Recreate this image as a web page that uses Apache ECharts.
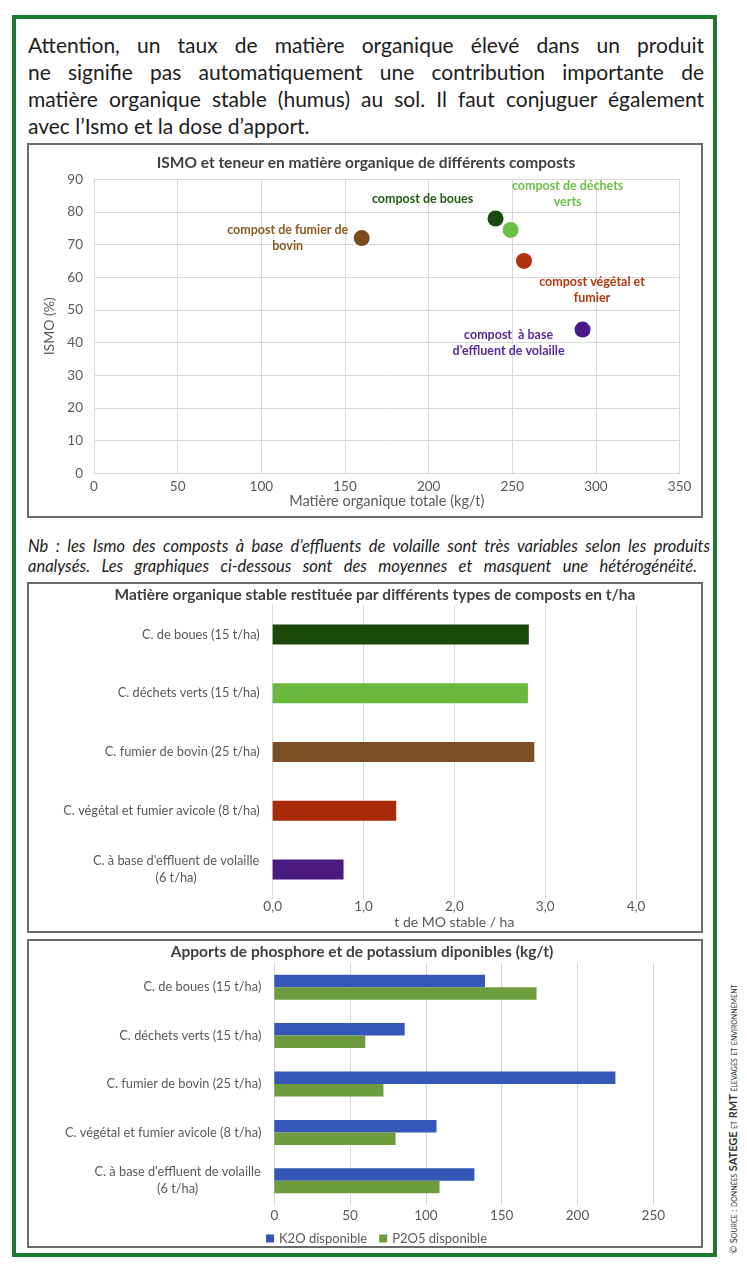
<!DOCTYPE html>
<html><head><meta charset="utf-8">
<script src="https://cdn.jsdelivr.net/npm/echarts@6/dist/echarts.min.js"></script>
<style>
body{margin:0;background:#fff;}
#page{position:relative;width:747px;height:1271px;overflow:hidden;background:#fff;}
.frame{position:absolute;left:12px;top:15px;width:697px;height:1234px;border:4px solid #1e7b34;}
.box{position:absolute;border:2px solid #6a6a6a;box-sizing:border-box;}
#chart{position:absolute;left:0;top:0;width:747px;height:1271px;}
.para{position:absolute;left:28px;width:676px;top:31px;font-family:Lato,"Open Sans",sans-serif;font-size:21px;line-height:27px;color:#1c1c1c;}
.para div{white-space:nowrap;text-align:justify;text-align-last:justify;}
.para div.last{text-align:left;text-align-last:left;}
.nb{position:absolute;left:28px;width:682px;top:536px;font-family:Lato,"Open Sans",sans-serif;font-style:italic;font-size:16.5px;line-height:20px;color:#1c1c1c;}
.nb div{white-space:nowrap;text-align:justify;text-align-last:justify;}
.nb div.l2{width:669px;}
.src{position:absolute;left:598px;top:1113px;width:270px;height:12px;line-height:12px;transform:rotate(-90deg);transform-origin:50% 50%;font-family:Lato,"Open Sans",sans-serif;font-size:9.5px;font-variant:small-caps;color:#333;white-space:nowrap;text-align:center;}
.src b{font-weight:bold;font-size:11px;}
</style>
</head><body>
<div id="page">
  <div class="frame"></div>
  <div class="box" style="left:27px;top:143px;width:676px;height:375px;"></div>
  <div class="box" style="left:27px;top:582px;width:676px;height:351px;"></div>
  <div class="box" style="left:27px;top:939px;width:676px;height:309px;"></div>
  <div class="para">
    <div>Attention, un taux de matière organique élevé dans un produit</div>
    <div>ne signifie pas automatiquement une contribution importante de</div>
    <div>matière organique stable (humus) au sol. Il faut conjuguer également</div>
    <div class="last">avec l’Ismo et la dose d’apport.</div>
  </div>
  <div class="nb">
    <div>Nb : les Ismo des composts à base d’effluents de volaille sont très variables selon les produits</div>
    <div class="l2">analysés. Les graphiques ci-dessous sont des moyennes et masquent une hétérogénéité.</div>
  </div>
  <div class="src">© Source : données <b>SATEGE</b> et <b>RMT</b> élevages et environnement</div>
  <div id="chart"></div>
</div>
<script>
// ---- Data ----
const scatterLabels = ['compost de fumier de\nbovin', 'compost de boues', 'compost de déchets\nverts', 'compost végétal et\nfumier', "compost  à base\nd'effluent de volaille"];
const scatterMO = [160, 240, 249, 257, 292];
const scatterISMO = [72, 78, 74.5, 65, 44];

const categories = ['C. de boues (15 t/ha)', 'C. déchets verts (15 t/ha)', 'C. fumier de bovin (25 t/ha)', 'C. végétal et fumier avicole (8 t/ha)', "C. à base d'effluent de volaille\n(6 t/ha)"];
const moStable = [2.82, 2.81, 2.88, 1.36, 0.78];
const k2o = [139, 86, 225, 107, 132];
const p2o5 = [173, 60, 72, 80, 109];
const seriesNames = ['K2O disponible', 'P2O5 disponible'];

const titles = ['ISMO et teneur en matière organique de différents composts',
  'Matière organique stable restituée par différents types de composts en t/ha',
  'Apports de phosphore et de potassium diponibles (kg/t)'];

// ---- Styles ----
const pointColors = ['#7a4a1c', '#174a0e', '#6abf45', '#b0300c', '#4a1a8a'];
const labelColors = ['#8a5a26', '#215c16', '#6cc04a', '#b5380f', '#5a2a9a'];
const labelOffsets = [[-74, 0], [-73, -20], [57, -36], [68, 29], [-74, 13]];
const barColors = ['#1a4a0a', '#6ab93f', '#7b4f22', '#a82a08', '#4a1a80'];
const FONT = 'Lato, "Open Sans", sans-serif';
const GRAY = '#595959';
const GRID = '#d9d9d9';
const CAT_SIZE = 12.8;

const chart = echarts.init(document.getElementById('chart'), null, {renderer: 'canvas'});

// width of the widest line of a multi-line category label (for centring the second line under it)
const mctx = document.createElement('canvas').getContext('2d');
mctx.font = CAT_SIZE + 'px ' + FONT;
function catLabel(v) {
  const parts = v.split('\n');
  if (parts.length > 1) {
    return parts.map(p => '{c|' + p + '}').join('\n');
  }
  return '{n|' + v + '}';
}
const multi = categories.find(c => c.indexOf('\n') >= 0) || '';
const multiW = Math.max.apply(null, multi.split('\n').map(p => mctx.measureText(p).width)) + 1;
const catRich = {
  n: {fontSize: CAT_SIZE, color: GRAY, fontFamily: FONT, lineHeight: 17},
  c: {fontSize: CAT_SIZE, color: GRAY, fontFamily: FONT, lineHeight: 17, width: multiW, align: 'center'}
};

const titleFont = 'bold 15.5px ' + FONT;
const option = {
  animation: false,
  backgroundColor: 'transparent',
  textStyle: {fontFamily: FONT},
  graphic: [
    {type: 'text', x: 366, y: 163, style: {text: titles[0], textAlign: 'center', textVerticalAlign: 'middle', font: titleFont, fill: '#404040'}},
    {type: 'text', x: 375, y: 595, style: {text: titles[1], textAlign: 'center', textVerticalAlign: 'middle', font: titleFont, fill: '#404040'}},
    {type: 'text', x: 362, y: 952, style: {text: titles[2], textAlign: 'center', textVerticalAlign: 'middle', font: titleFont, fill: '#404040'}}
  ],
  legend: {
    data: seriesNames, left: 261, top: 1227, itemWidth: 8, itemHeight: 8, icon: 'rect', itemGap: 12,
    textStyle: {color: GRAY, fontSize: 13, fontFamily: FONT}
  },
  grid: [
    {left: 94, top: 179.3, width: 585.6, height: 294},
    {left: 272.7, top: 605, width: 363.3, height: 294},
    {left: 274.3, top: 963, width: 379, height: 242}
  ],
  xAxis: [
    {gridIndex: 0, type: 'value', min: 0, max: 350, interval: 50,
     name: 'Matière organique totale (kg/t)', nameLocation: 'middle', nameGap: 20,
     nameTextStyle: {color: GRAY, fontSize: 14.5, fontFamily: FONT},
     axisLine: {show: true, lineStyle: {color: GRID}}, axisTick: {show: false},
     axisLabel: {color: GRAY, fontSize: 13.5, margin: 6, fontFamily: FONT},
     splitLine: {show: true, lineStyle: {color: GRID}}},
    {gridIndex: 1, type: 'value', min: 0, max: 4, interval: 1,
     name: 't de MO stable / ha', nameLocation: 'middle', nameGap: 16,
     nameTextStyle: {color: GRAY, fontSize: 14, fontFamily: FONT},
     axisLine: {show: false}, axisTick: {show: false},
     axisLabel: {color: GRAY, fontSize: 13.5, margin: 1, fontFamily: FONT, formatter: v => v.toFixed(1).replace('.', ',')},
     splitLine: {show: true, lineStyle: {color: GRID}}},
    {gridIndex: 2, type: 'value', min: 0, max: 250, interval: 50,
     axisLine: {show: false}, axisTick: {show: false},
     axisLabel: {color: GRAY, fontSize: 13.5, margin: 4, fontFamily: FONT},
     splitLine: {show: true, lineStyle: {color: GRID}}}
  ],
  yAxis: [
    {gridIndex: 0, type: 'value', min: 0, max: 90, interval: 10,
     name: 'ISMO (%)', nameLocation: 'middle', nameGap: 26, nameRotate: 90,
     nameTextStyle: {color: GRAY, fontSize: 14, fontFamily: FONT},
     axisLine: {show: false}, axisTick: {show: false},
     axisLabel: {color: GRAY, fontSize: 13.5, margin: 11, fontFamily: FONT},
     splitLine: {show: true, lineStyle: {color: GRID}}},
    {gridIndex: 1, type: 'category', data: categories, inverse: true,
     axisLine: {show: true, lineStyle: {color: GRID}}, axisTick: {show: false},
     axisLabel: {margin: 13, formatter: catLabel, rich: catRich}},
    {gridIndex: 2, type: 'category', data: categories, inverse: true,
     axisLine: {show: true, lineStyle: {color: GRID}}, axisTick: {show: false},
     axisLabel: {margin: 13, formatter: catLabel, rich: catRich}}
  ],
  series: [
    {type: 'scatter', xAxisIndex: 0, yAxisIndex: 0, symbolSize: 16,
     data: scatterMO.map((x, i) => ({
       value: [x, scatterISMO[i]],
       itemStyle: {color: pointColors[i], opacity: 1},
       label: {formatter: scatterLabels[i], color: labelColors[i], offset: labelOffsets[i]}
     })),
     label: {show: true, position: 'inside', align: 'center', verticalAlign: 'middle',
             fontFamily: FONT, fontWeight: 'bold', fontSize: 12.5, lineHeight: 16}},
    {type: 'bar', xAxisIndex: 1, yAxisIndex: 1, barWidth: 20,
     data: moStable.map((v, i) => ({value: v, itemStyle: {color: barColors[i]}}))},
    {type: 'bar', name: seriesNames[0], xAxisIndex: 2, yAxisIndex: 2, barWidth: 12.5, barGap: '0%',
     itemStyle: {color: '#3557b7'}, data: k2o},
    {type: 'bar', name: seriesNames[1], xAxisIndex: 2, yAxisIndex: 2, barWidth: 12.5, barGap: '0%',
     itemStyle: {color: '#6e9b3e'}, data: p2o5}
  ]
};
chart.setOption(option);
</script>
</body></html>
